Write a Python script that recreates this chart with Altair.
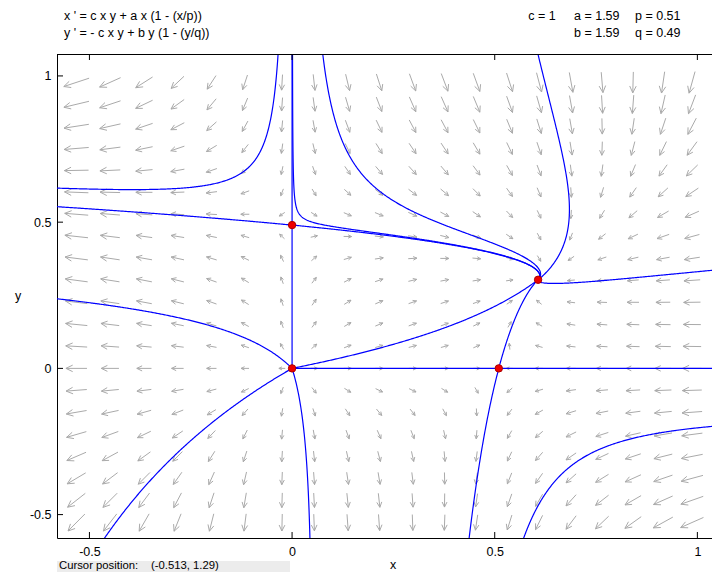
import numpy as np
import pandas as pd
import altair as alt

# ---- model shown in the chart ----
C, A, B, P, Q = 1.0, 1.59, 1.59, 0.51, 0.49

W, H = 655, 484
X_DOMAIN = [-0.58, -0.58 + W / 405.3]
Y_DOMAIN = [-0.58, 1.075]

# arrow grid (centres)
GRID_X = [-0.532, -0.449, -0.365, -0.2825, -0.1986, -0.116, -0.0247, 0.0543, 0.137,
          0.2147, 0.2973, 0.3763, 0.4552, 0.5366, 0.6094, 0.6884, 0.7649, 0.8413,
          0.9154, 0.9869]
GRID_Y = [0.978, 0.903, 0.828, 0.752, 0.677, 0.602, 0.527, 0.451, 0.376, 0.301,
          0.226, 0.150, 0.075, 0.0, -0.075, -0.150, -0.226, -0.301, -0.376,
          -0.451, -0.527]

TICKS = [-0.5, 0, 0.5, 1]

EQ_X = [0.0, 0.0, 0.51, 0.607]
EQ_Y = [0.0, 0.49, 0.0, 0.303]

# trajectory seed points  (mode: b = both ways, f = forward)
SEED_X = [0.0, 0.0, 0.25, 0.8, 0.004, -0.004, 0.51, 0.51, -0.0345, 0.0757, 0.6066,
          1.056, 0.572, -0.58, -0.459, 0.044, 0.365, 0.0011]
SEED_Y = [0.8, 0.25, 0.0, 0.0, 0.49, 0.49, 0.004, -0.004, 1.075, 1.075, 1.075,
          0.338, -0.578, 0.238, -0.573, -0.577, 0.133, 1.075]
SEED_MODE = ["b", "b", "b", "b", "f", "f", "f", "f", "b", "b", "b",
             "b", "b", "b", "b", "b", "b", "f"]

sx = W / (X_DOMAIN[1] - X_DOMAIN[0])
sy = H / (Y_DOMAIN[1] - Y_DOMAIN[0])


def vel(x, y):
    fx = C * x * y + A * x * (1 - x / P)
    fy = -C * x * y + B * y * (1 - y / Q)
    return fx * sx, fy * sy


# ---- direction field ----
segs = []
for gx in GRID_X:
    for gy in GRID_Y:
        u, v = vel(gx, gy)
        m = np.hypot(u, v)
        if m < 1e-9:
            continue
        ux, uy = u / m, v / m
        L = 6.0 + 0.0215 * m
        tx, ty = gx - ux * L / 2 / sx, gy - uy * L / 2 / sy
        hx, hy = gx + ux * L / 2 / sx, gy + uy * L / 2 / sy
        segs.append((tx, ty, hx, hy))
        h = min(7.5, 0.3 * L + 1.5)
        for ang in (0.45, -0.45):
            bx = -ux * np.cos(ang) + uy * np.sin(ang)
            by = -ux * np.sin(ang) - uy * np.cos(ang)
            segs.append((hx, hy, hx + bx * h / sx, hy + by * h / sy))
arrows = pd.DataFrame(segs, columns=["x", "y", "x2", "y2"])


# ---- trajectories ----
def trace(x, y, sgn, ds=1.0, nmax=5000):
    pts = [(x, y)]

    def d(xx, yy):
        u, v = vel(xx, yy)
        m = np.hypot(u, v)
        if m < 1e-12:
            return 0.0, 0.0, m
        return sgn * u / m / sx * ds, sgn * v / m / sy * ds, m

    for i in range(nmax):
        k1x, k1y, m = d(x, y)
        if i > 5:
            if m < 0.3:
                break
            dmin = min(np.hypot((x - ex) * sx, (y - ey) * sy) for ex, ey in zip(EQ_X, EQ_Y))
            if dmin < 0.8:
                break
        k2x, k2y, _ = d(x + k1x / 2, y + k1y / 2)
        k3x, k3y, _ = d(x + k2x / 2, y + k2y / 2)
        k4x, k4y, _ = d(x + k3x, y + k3y)
        x += (k1x + 2 * k2x + 2 * k3x + k4x) / 6
        y += (k1y + 2 * k2y + 2 * k3y + k4y) / 6
        pts.append((x, y))
        if x < -0.7 or x > 1.2 or y < -0.7 or y > 1.2:
            break
    return pts


rows = []
for cid, (x0, y0, mode) in enumerate(zip(SEED_X, SEED_Y, SEED_MODE)):
    fwd = trace(x0, y0, 1)
    if mode == "b":
        bwd = trace(x0, y0, -1)
        pts = bwd[::-1] + fwd[1:]
    else:
        pts = fwd
    for i, (px, py) in enumerate(pts):
        rows.append((cid, i, px, py))
curves = pd.DataFrame(rows, columns=["curve", "i", "x", "y"])

eq = pd.DataFrame({"x": EQ_X, "y": EQ_Y})
ticks = pd.DataFrame({"v": TICKS})

FONT = "Liberation Sans"
xscale = alt.Scale(domain=X_DOMAIN, nice=False, zero=False)
yscale = alt.Scale(domain=Y_DOMAIN, nice=False, zero=False)
xaxis = alt.Axis(values=TICKS, labelExpr="'' + datum.value", ticks=False, tickSize=0,
                 grid=False, domain=True, domainColor="black", title=None,
                 labelFont=FONT, labelFontSize=12.5, labelColor="black",
                 labelPadding=7, labelFlush=False)
yaxis = alt.Axis(values=TICKS, labelExpr="'' + datum.value", ticks=False, tickSize=0,
                 grid=False, domain=True, domainColor="black", title=None,
                 labelFont=FONT, labelFontSize=12.5, labelColor="black",
                 labelPadding=6, labelFlush=False)


def X(f):
    return alt.X(f, type="quantitative", scale=xscale, axis=xaxis)


def Y(f):
    return alt.Y(f, type="quantitative", scale=yscale, axis=yaxis)


arrow_layer = alt.Chart(arrows).mark_rule(color="#aaaaaa", strokeWidth=1, clip=True).encode(
    x=X("x"), y=Y("y"), x2="x2", y2="y2")

curve_layer = alt.Chart(curves).mark_line(color="#0000ff", strokeWidth=1.2, clip=True).encode(
    x=X("x"), y=Y("y"), detail="curve:N", order="i:Q")

eq_layer = alt.Chart(eq).mark_point(filled=True, fill="#ee0000", stroke="#aa0000",
                                    strokeWidth=1, size=55, opacity=1).encode(
    x=X("x"), y=Y("y"))

xticks_b = alt.Chart(ticks).mark_rule(color="black").encode(
    x=X("v"), y=alt.value(H), y2=alt.value(H - 6))
xticks_t = alt.Chart(ticks).mark_rule(color="black").encode(
    x=X("v"), y=alt.value(0), y2=alt.value(6))
yticks = alt.Chart(ticks).mark_rule(color="black").encode(
    y=Y("v"), x=alt.value(0), x2=alt.value(6))
top_border = alt.Chart(ticks).mark_rule(color="black").encode(
    x=alt.value(0), x2=alt.value(W), y=alt.value(0.5))


def label(txt, px, py, size=12.5, align="left"):
    return alt.Chart(pd.DataFrame({"t": [txt]})).mark_text(
        font=FONT, fontSize=size, align=align, baseline="alphabetic", color="black"
    ).encode(text="t:N", x=alt.value(px), y=alt.value(py))


texts = [
    label("x ' = c x y + a x (1 - (x/p))", 7, -34.5),
    label("y ' = - c x y + b y (1 - (y/q))", 7, -17.5),
    label("c = 1", 471.3, -34.5),
    label("a = 1.59", 517, -34.5),
    label("p = 0.51", 578, -34.5),
    label("b = 1.59", 517, -17.5),
    label("q = 0.49", 578, -17.5),
    label("x", 336, 514.5, align="center"),
    label("y", -39, 246, align="center"),
]

cursor_bg = alt.Chart(pd.DataFrame({"a": [0]})).mark_rect(color="#ececec").encode(
    x=alt.value(0), x2=alt.value(233), y=alt.value(507), y2=alt.value(518))
cursor_txt = [
    label("Cursor position:", 2, 514.5, size=11.3),
    label("(-0.513, 1.29)", 94, 514.5, size=11.3),
]

chart = alt.layer(
    cursor_bg, arrow_layer, curve_layer, eq_layer, xticks_b, xticks_t, yticks, top_border,
    *texts, *cursor_txt
).properties(
    width=W, height=H,
    padding={"left": 49, "top": 46, "right": 0, "bottom": 34},
    autosize=alt.AutoSizeParams(type="none"),
    background="white",
).configure_view(stroke=None)

chart.save("out.html", embed_options={"renderer": "svg", "actions": False})
